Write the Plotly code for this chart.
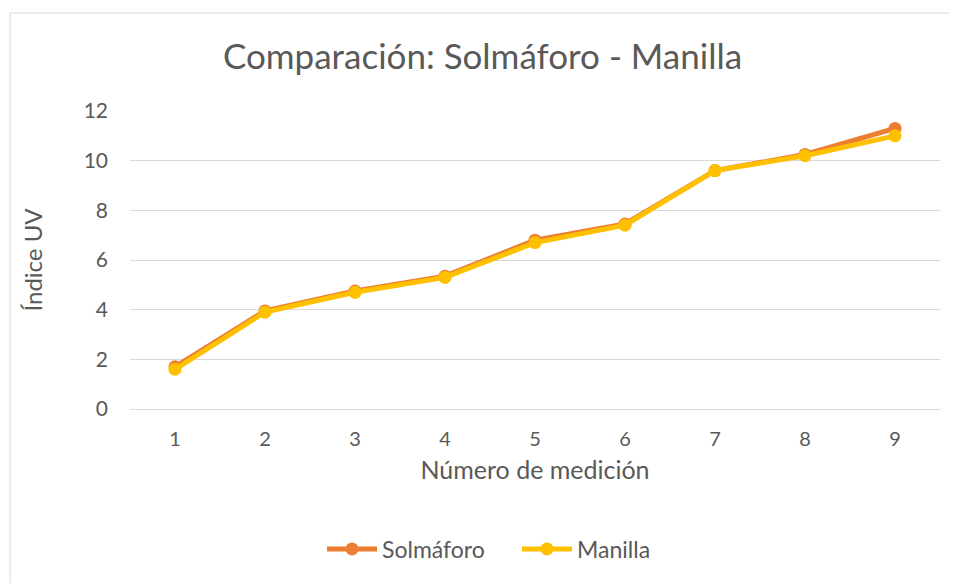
import plotly.graph_objects as go

mediciones = ["1", "2", "3", "4", "5", "6", "7", "8", "9"]
solmaforo = [1.7, 3.95, 4.75, 5.35, 6.8, 7.45, 9.6, 10.25, 11.3]
manilla = [1.6, 3.9, 4.7, 5.3, 6.7, 7.4, 9.6, 10.2, 11.0]
y_ticks = [0, 2, 4, 6, 8, 10, 12]

# page body margin offset (8px) compensation
OFF = 8
WIN_W, WIN_H = 957, 583
W, H = WIN_W - OFF, WIN_H - OFF
# target plot area in window pixels: x 130..940, y 111..409
L, R, T, B = 130 - OFF, WIN_W - 940, 111 - OFF, WIN_H - 409
pw, ph = W - L - R, H - T - B

def px(x):  # window pixel -> paper x
    return (x - OFF - L) / pw

def py(y):  # window pixel -> paper y
    return (H - B - (y - OFF)) / ph

font = "Lato, Open Sans, sans-serif"
txt = "#595959"

fig = go.Figure()
fig.add_trace(go.Scatter(x=mediciones, y=solmaforo, name="Solmáforo", mode="lines+markers",
                         line=dict(color="#ED7D31", width=5), marker=dict(size=13, color="#ED7D31")))
fig.add_trace(go.Scatter(x=mediciones, y=manilla, name="Manilla", mode="lines+markers",
                         line=dict(color="#FFC000", width=5), marker=dict(size=13, color="#FFC000")))

fig.update_layout(
    width=W, height=H,
    margin=dict(l=L, r=R, t=T, b=B),
    paper_bgcolor="white", plot_bgcolor="white",
    font=dict(family=font, color=txt, size=20),
    title=dict(text="Comparación: Solmáforo - Manilla", x=0.5, xanchor="center",
               y=1 - (57 - OFF) / H, yanchor="middle", font=dict(size=35, color=txt, family=font)),
    xaxis=dict(type="category", range=[-0.5, 8.5], showgrid=False, showline=True,
               linecolor="#D9D9D9", linewidth=1, ticks="", ticklabelstandoff=12,
               tickfont=dict(size=20, color=txt),
               title=dict(text="Número de medición", font=dict(size=25, color=txt), standoff=12)),
    yaxis=dict(range=[0, 12], tickvals=y_ticks, showgrid=True, gridcolor="#D9D9D9", gridwidth=1,
               zeroline=False, showline=False, ticks="", ticklabelstandoff=21,
               tickfont=dict(size=21, color=txt),
               title=dict(text="Índice UV", font=dict(size=24, color=txt), standoff=34)),
    legend=dict(orientation="h", x=px(322), xanchor="left", y=py(549), yanchor="middle",
                font=dict(size=23, color=txt), traceorder="normal",
                entrywidth=130, entrywidthmode="pixels", itemwidth=50),
    showlegend=True,
)

# chart area border (left and top edges visible in the picture)
fig.add_shape(type="rect", xref="paper", yref="paper",
              x0=px(10), x1=px(WIN_W + 20), y0=py(13), y1=py(WIN_H + 20),
              line=dict(color="#D9D9D9", width=1), fillcolor="rgba(0,0,0,0)", layer="below")

fig.write_html("out.html")
